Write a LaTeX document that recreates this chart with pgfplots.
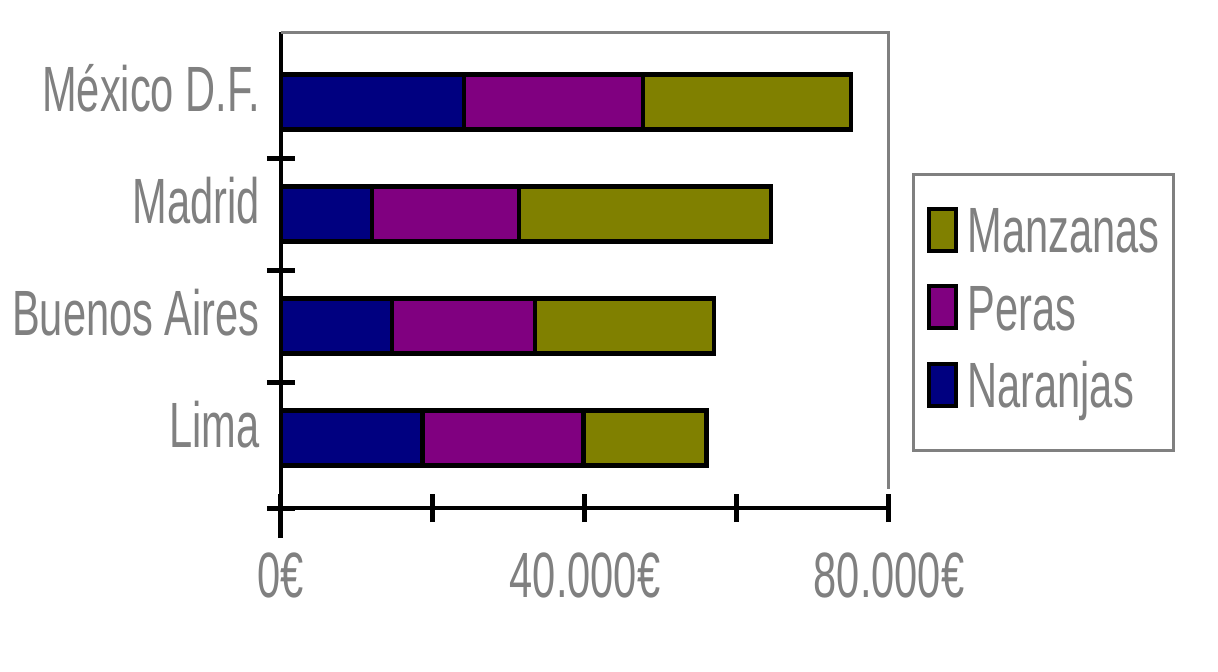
\documentclass[border=0pt]{standalone}
\usepackage{fontspec}
\setmainfont{Liberation Sans}[FakeStretch=0.65]
\usepackage{pgfplots}
\pgfplotsset{compat=1.18}

\definecolor{naranjas}{RGB}{0,0,128}
\definecolor{peras}{RGB}{128,0,128}
\definecolor{manzanas}{RGB}{128,128,0}
\newcommand{\chartfont}{\fontsize{32}{38}\selectfont}

\pgfplotsset{
  swatch/.style={legend image code/.code={
    \draw[##1, line width=2pt] (1pt,-7.75pt) rectangle (14.5pt,13.25pt);}},
}

\begin{document}
\begin{tikzpicture}
\begin{axis}[
    at={(0,0)}, anchor=south west,
    scale only axis, width=304pt, height=238pt,
    xbar stacked, bar width=0.49,
    xmin=0, xmax=80000,
    ymin=-0.625, ymax=3.625,
    clip=false,
    scaled x ticks=false,
    axis x line*=bottom, axis y line*=left,
    axis line style={-, black, line width=2pt},
    xtick={0,20000,40000,60000,80000},
    xticklabels={{0€},,{40.000€},,{80.000€}},
    extra x ticks={0},
    extra x tick labels={},
    extra x tick style={tick align=outside, major tick length=15pt},
    ytick={-0.625,0.5,1.5,2.5},
    yticklabels={},
    extra y ticks={0,1,2,3},
    extra y tick labels={Lima,Buenos Aires,Madrid,México D.F.},
    extra y tick style={major tick length=0pt},
    tick align=center,
    major tick length=14pt,
    tick style={black, line width=2.5pt},
    every tick label/.append style={font=\chartfont, text=gray},
    yticklabel style={anchor=base east, inner sep=0pt, xshift=-10.5pt, yshift=-4.5pt},
    xticklabel style={anchor=base, inner sep=0pt, yshift=-37.5pt},
    legend style={at={(rel axis cs:1.0378,0.7038)}, anchor=north west,
      draw=gray, line width=1.5pt, fill=white, font=\chartfont, text=gray,
      inner xsep=7pt, inner ysep=16pt, row sep=10.25pt, column sep=4.5pt,
      nodes={inner sep=0pt, text height=23pt, text depth=5.5pt}},
    legend cell align=left,
    reverse legend,
]
% Naranjas
\addplot[fill=naranjas, draw=black, line width=2.2pt, swatch] coordinates {
  (18600,0) (14600,1) (12000,2) (24100,3)};
% Peras
\addplot[fill=peras, draw=black, line width=2.2pt, swatch] coordinates {
  (21200,0) (18800,1) (19300,2) (23500,3)};
% Manzanas
\addplot[fill=manzanas, draw=black, line width=2.2pt, swatch] coordinates {
  (16200,0) (23600,1) (33200,2) (27400,3)};
\legend{Naranjas,Peras,Manzanas}

% gray top and right frame
\draw[gray, line width=1.5pt] (rel axis cs:0,1) -- (rel axis cs:1,1) -- (rel axis cs:1,0.04);
\end{axis}
\pgfresetboundingbox
\path[use as bounding box] (-140.5pt,-81.5pt) rectangle (468.5pt,254pt);
\end{tikzpicture}
\end{document}
